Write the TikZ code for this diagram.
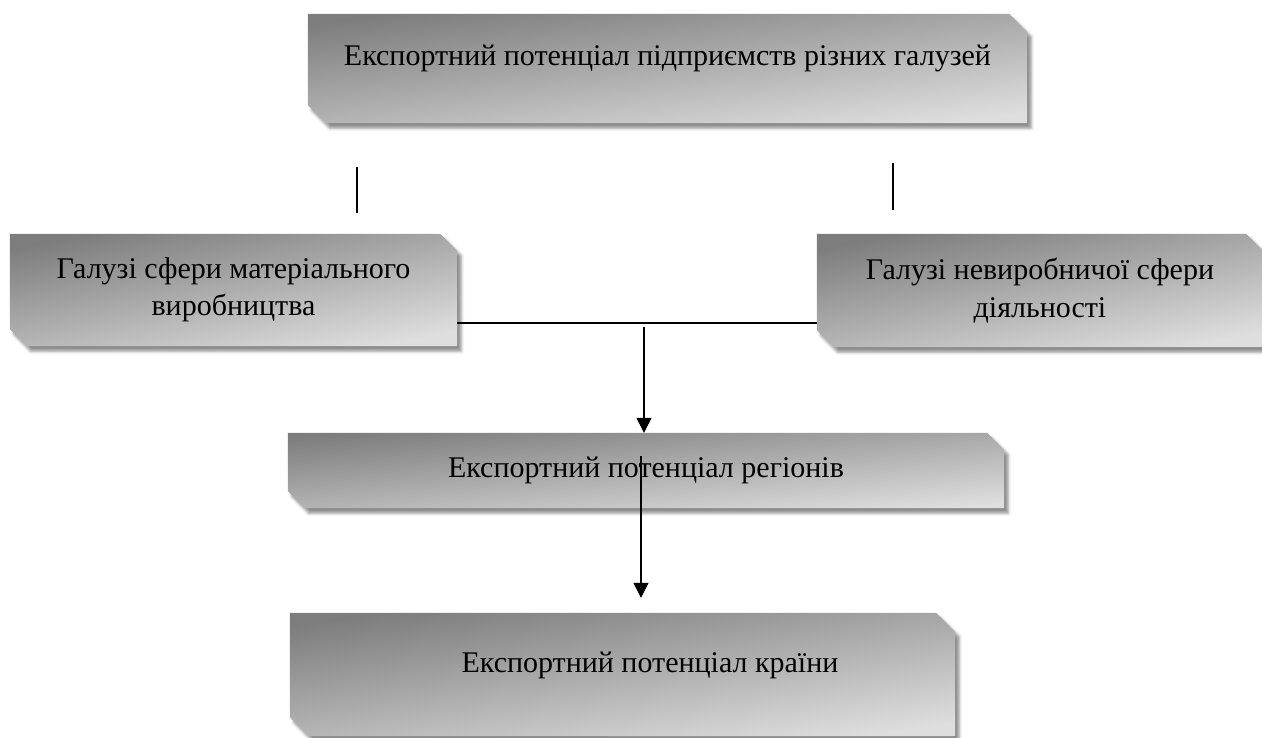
\documentclass[tikz,border=0pt]{standalone}
\usepackage{fontspec}
\setmainfont{Liberation Serif}
\usetikzlibrary{arrows.meta,shadows.blur,backgrounds}
\definecolor{dk}{RGB}{125,125,125}
\definecolor{lt}{RGB}{222,222,222}
\tikzset{
  boxshape/.style={shading=axis, top color=dk, bottom color=lt,
    blur shadow={shadow xshift=4pt, shadow yshift=-5pt, shadow blur radius=3pt, shadow opacity=45}},
  boxnode/.style={rectangle, inner sep=0pt, font=\fontsize{30}{37.5}\selectfont, align=center},
  conn/.style={line width=1.2pt},
  arr/.style={conn, -{Triangle[width=15pt,length=15pt]}}
}
\newcommand\snipfill[3]{\path[boxshape, shading angle=#3] (#1.north west) -- ([xshift=-#2]#1.north east) -- ([yshift=-#2]#1.north east) -- (#1.south east) -- ([xshift=#2]#1.south west) -- ([yshift=#2]#1.south west) -- cycle;}
\begin{document}
\begin{tikzpicture}[x=1pt,y=-1pt]
\clip (0,0) rectangle (1262,737);
\node[boxnode, minimum width=719pt, minimum height=109pt, text depth=27pt] (t) at (667.5,68.5) {Експортний потенціал підприємств різних галузей};
\node[boxnode, minimum width=447pt, minimum height=112pt] (l) at (233.5,290) {Галузі сфери матеріального\\виробництва};
\node[boxnode, minimum width=446pt, minimum height=113pt] (r) at (1040,290.5) {Галузі невиробничої сфери\\діяльності};
\node[boxnode, minimum width=716pt, minimum height=75pt] (m) at (646,470.5) {Експортний потенціал регіонів};
\node[boxnode, minimum width=665pt, minimum height=123pt, text depth=25pt] (b) at (622.5,674.5) {\hspace*{55pt}Експортний потенціал країни};
\begin{scope}[on background layer]
  \snipfill{t}{18pt}{7}
  \snipfill{l}{17pt}{11}
  \snipfill{r}{17pt}{11}
  \snipfill{m}{17pt}{5}
  \snipfill{b}{19pt}{8}
\end{scope}
\coordinate (a1) at (357,167); \coordinate (a2) at (357,213);
\draw[conn] (a1) -- (a2);
\coordinate (b1) at (893,163); \coordinate (b2) at (893,210);
\draw[conn] (b1) -- (b2);
\coordinate (hl) at (0,323);
\draw[conn] (l.east |- hl) -- (r.west |- hl);
\coordinate (j) at (644,327);
\draw[arr] (j) -- (j |- m.north);
\coordinate (s) at (641,456);
\draw[arr] (s) -- ([yshift=15pt]s |- b.north);
\end{tikzpicture}
\end{document}
